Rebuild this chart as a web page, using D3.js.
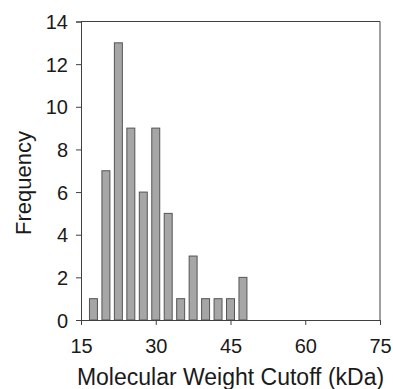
<!DOCTYPE html>
<html>
<head>
<meta charset="utf-8">
<script src="https://cdn.jsdelivr.net/npm/d3@7/dist/d3.min.js"></script>
<style>
  html, body { margin: 0; padding: 0; background: #fff; }
  text { font-family: "Liberation Sans", Arial, sans-serif; fill: #1a1a1a; }
</style>
</head>
<body>
<svg id="chart" width="393" height="389"></svg>
<script>
// Data
const binCenters = [17.5, 20, 22.5, 25, 27.5, 30, 32.5, 35, 37.5, 40, 42.5, 45, 47.5];
const frequencies = [1, 7, 13, 9, 6, 9, 5, 1, 3, 1, 1, 1, 2];
const xTicks = [15, 30, 45, 60, 75];
const yTicks = [0, 2, 4, 6, 8, 10, 12, 14];
const xTitle = "Molecular Weight Cutoff (kDa)";
const yTitle = "Frequency";
const barWidthUnits = 1.6;

const svg = d3.select("#chart");
const m = { left: 81, right: 13, top: 21.5, bottom: 69 };
const W = 393, H = 389;
const x = d3.scaleLinear().domain([15, 75]).range([m.left, W - m.right]);
const y = d3.scaleLinear().domain([0, 14]).range([H - m.bottom, m.top]);

const axisColor = "#404040";

// frame top & right
svg.append("line").attr("x1", x(15)).attr("x2", x(75)).attr("y1", y(14)).attr("y2", y(14))
  .attr("stroke", axisColor).attr("stroke-width", 1);
svg.append("line").attr("x1", x(75)).attr("x2", x(75)).attr("y1", y(14)).attr("y2", y(0))
  .attr("stroke", axisColor).attr("stroke-width", 1);

// bars
svg.append("g").selectAll("rect").data(binCenters).join("rect")
  .attr("x", (d) => x(d - barWidthUnits / 2))
  .attr("width", (d) => x(d + barWidthUnits / 2) - x(d - barWidthUnits / 2))
  .attr("y", (d, i) => y(frequencies[i]))
  .attr("height", (d, i) => y(0) - y(frequencies[i]))
  .attr("fill", "#a6a6a6")
  .attr("stroke", "#555555")
  .attr("stroke-width", 1);

// axes
const xAxis = svg.append("g").attr("transform", `translate(0,${y(0)})`)
  .call(d3.axisBottom(x).tickValues(xTicks).tickSize(5).tickPadding(14).tickFormat(d3.format("d")));
const yAxis = svg.append("g").attr("transform", `translate(${x(15)},0)`)
  .call(d3.axisLeft(y).tickValues(yTicks).tickSize(5).tickPadding(8).tickFormat(d3.format("d")));

[xAxis, yAxis].forEach(g => {
  g.select(".domain").attr("stroke", axisColor).attr("stroke-width", 1);
  g.selectAll(".tick line").attr("stroke", axisColor);
  g.selectAll(".tick text").attr("font-size", 20).attr("fill", "#1a1a1a")
    .attr("font-family", "Liberation Sans, Arial, sans-serif");
});
yAxis.selectAll(".tick text").attr("dy", "0.36em");

// titles
svg.append("text").attr("x", (x(15) + x(75)) / 2).attr("y", 385)
  .attr("text-anchor", "middle").attr("font-size", 23).text(xTitle);
svg.append("text").attr("transform", `translate(31,183) rotate(-90)`)
  .attr("text-anchor", "middle").attr("font-size", 22).text(yTitle);
</script>
</body>
</html>
